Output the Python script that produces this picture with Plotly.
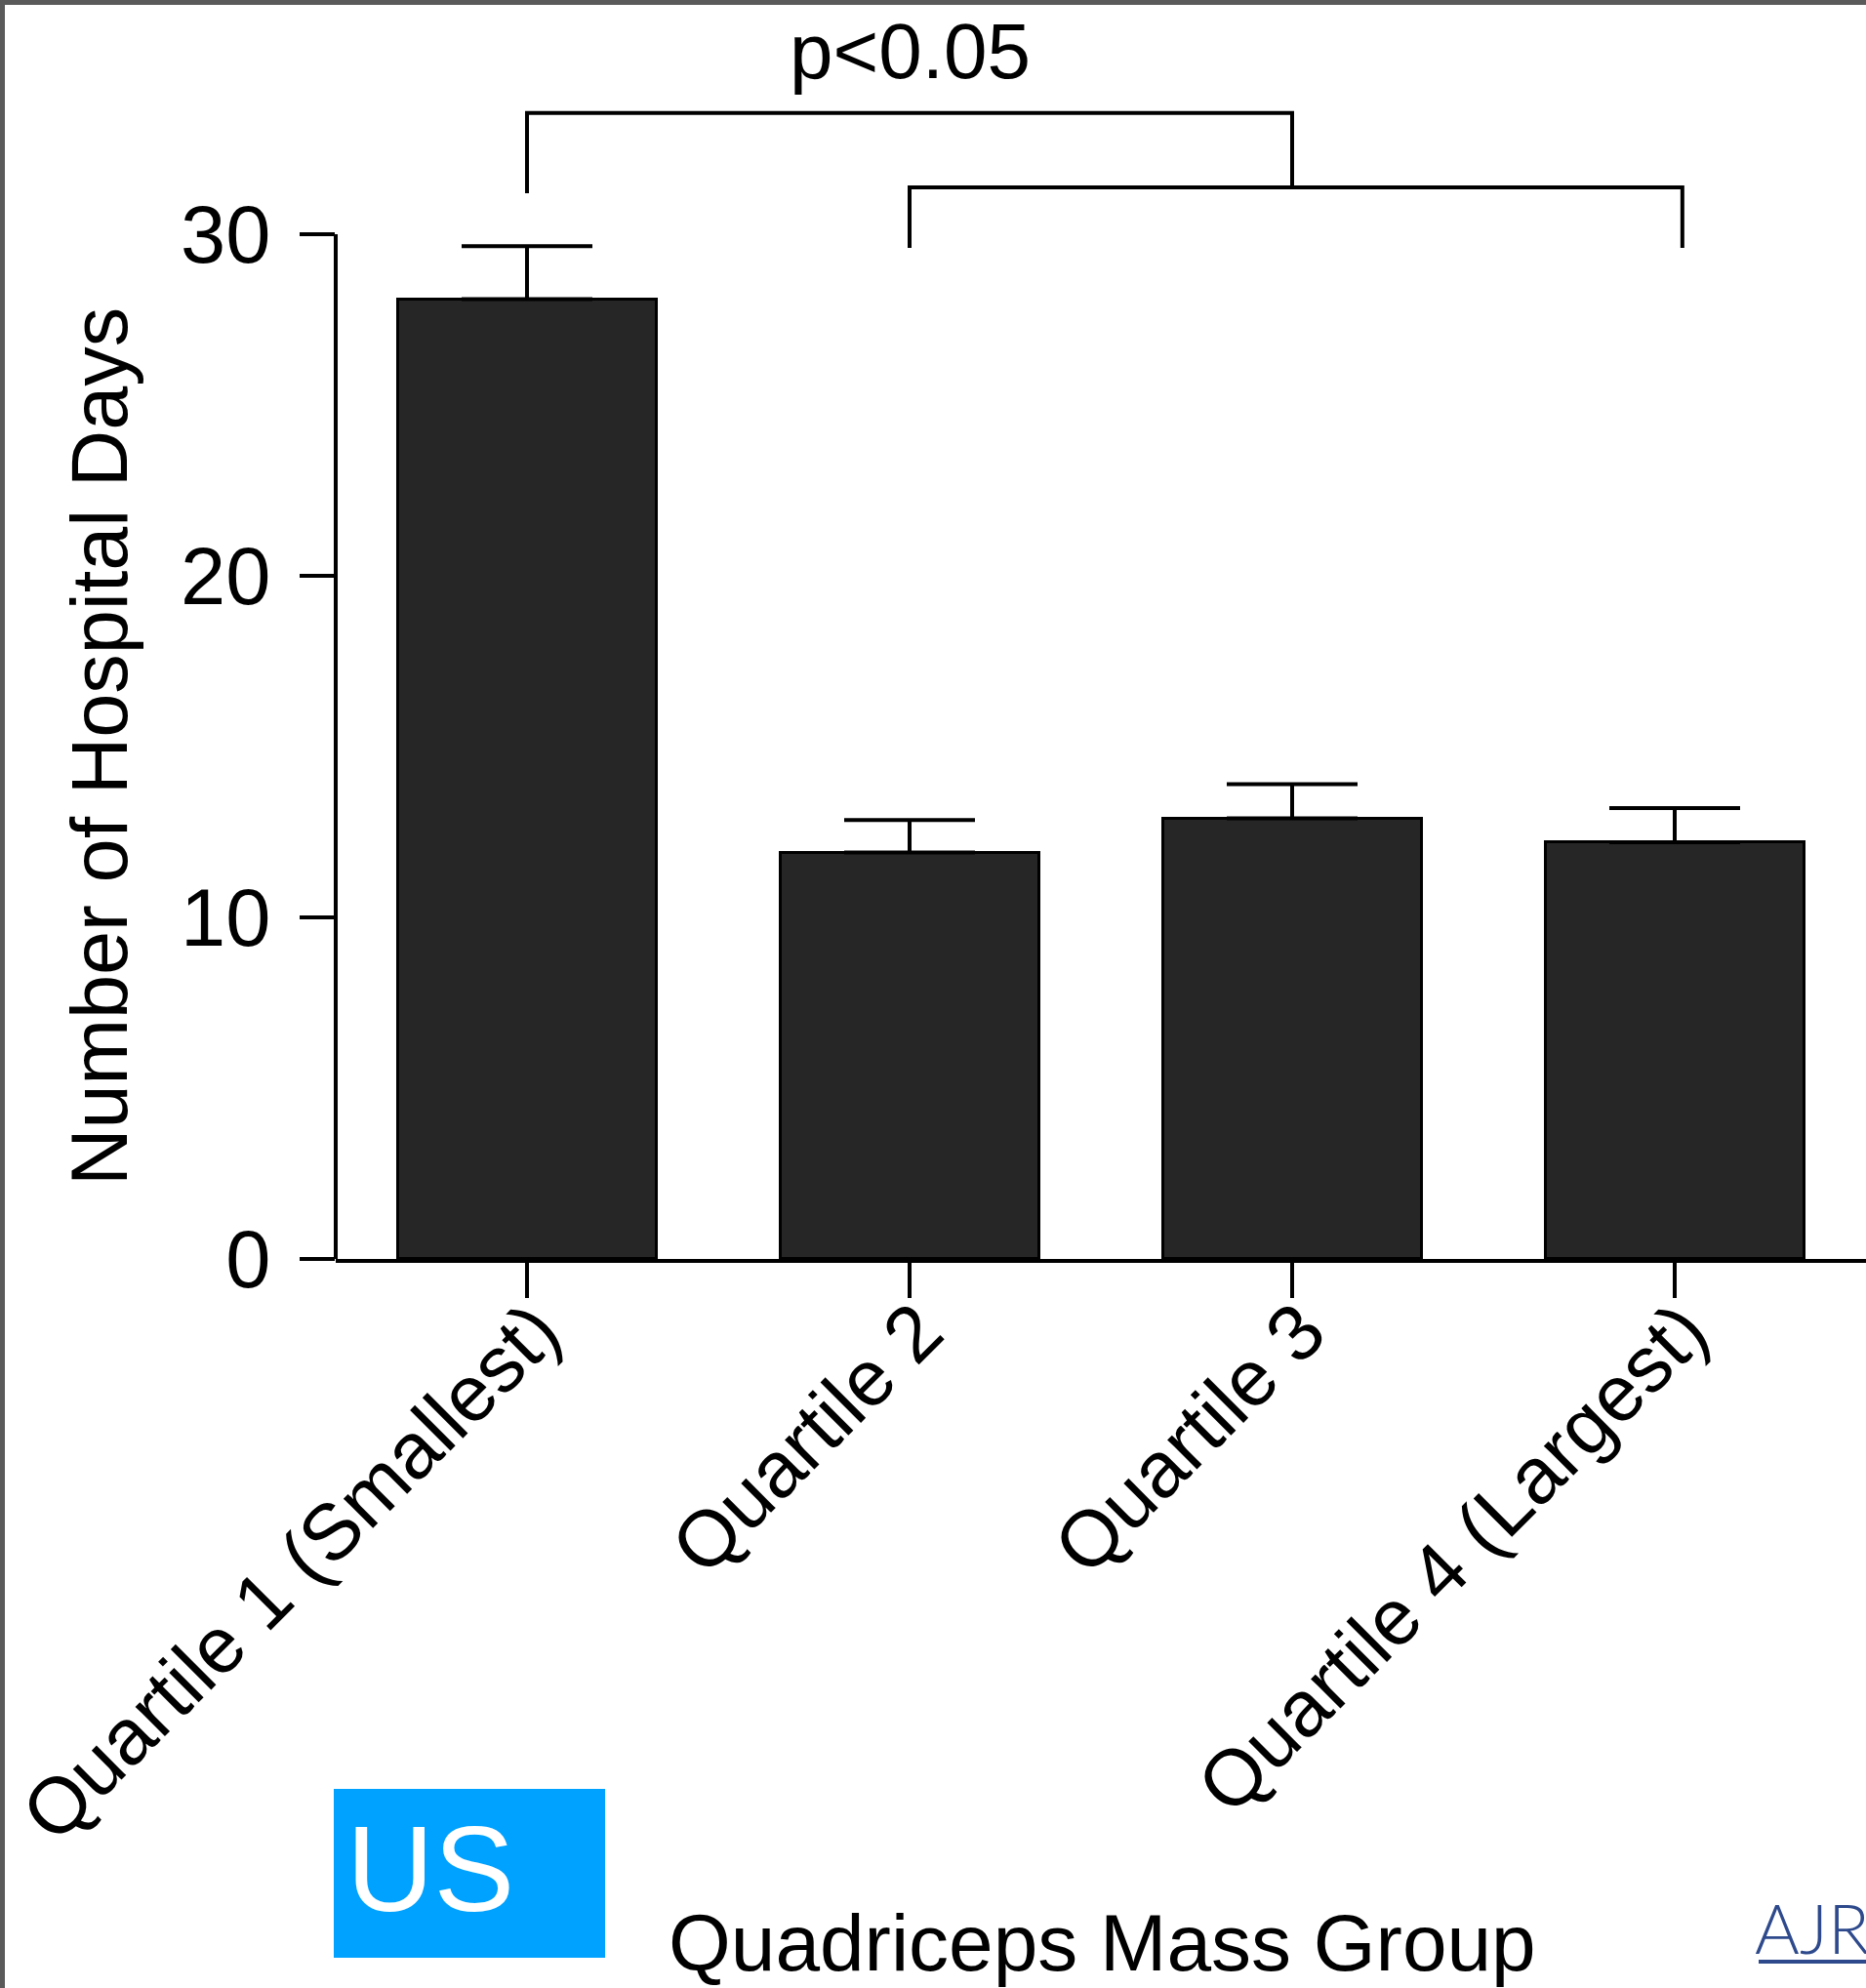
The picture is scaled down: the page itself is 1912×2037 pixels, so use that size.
import plotly.graph_objects as go

# Data: mean hospital days by quadriceps mass quartile
categories = ["Quartile 1 (Smallest)", "Quartile 2", "Quartile 3", "Quartile 4 (Largest)"]
hospital_days = [28.1, 11.9, 12.9, 12.2]
error_upper = [1.55, 0.95, 1.0, 1.0]
y_ticks = [0, 10, 20, 30]
p_label = "p<0.05"

# Page geometry (pixels)
W, H = 1912, 2037
ML, MR, MT, MB = 344, 0, 0, 747
PW, PH = W - ML - MR, H - MT - MB
PX_PER_UNIT = 35.0
FONT = "Liberation Sans, Arial, Helvetica, sans-serif"


def px(x):
    return (x - ML) / PW


def py(y):
    return (H - MB - y) / PH


fig = go.Figure()
fig.add_trace(go.Bar(
    x=categories,
    y=hospital_days,
    width=0.676,
    marker=dict(color="#262626", line=dict(color="#000000", width=3)),
    error_y=dict(type="data", symmetric=False, array=error_upper,
                 arrayminus=[0] * len(error_upper),
                 color="#000000", thickness=4, width=67),
    showlegend=False,
))

line_style = dict(color="#000000", width=4)

# y axis spine drawn only across the tick span
fig.add_shape(type="line", xref="paper", yref="y", x0=0, x1=0,
              y0=min(y_ticks), y1=max(y_ticks), line=line_style)

# significance brackets
b1_top, b1_left_drop, b2_top, b2_drop = 33.55, 31.2, 31.37, 29.6
b2_right = 3.02
fig.add_shape(type="path", xref="x", yref="y",
              path=f"M 0,{b1_left_drop} L 0,{b1_top} L 2,{b1_top} L 2,{b2_top}",
              line=line_style)
fig.add_shape(type="path", xref="x", yref="y",
              path=f"M 1,{b2_drop} L 1,{b2_top} L {b2_right},{b2_top} L {b2_right},{b2_drop}",
              line=line_style)
fig.add_annotation(x=1, y=(H - MB - 52) / PX_PER_UNIT, xref="x", yref="y",
                   text=p_label, showarrow=False, xanchor="center", yanchor="middle",
                   font=dict(family=FONT, size=80, color="#000000"))

# y axis title centred on the spine
fig.add_annotation(x=px(102), y=max(y_ticks) / 2, xref="paper", yref="y",
                   text="Number of Hospital Days", textangle=-90, showarrow=False,
                   xanchor="center", yanchor="middle",
                   font=dict(family=FONT, size=81, color="#000000"))

# x axis title
fig.add_annotation(x=px(1129), y=py(1990), xref="paper", yref="paper",
                   text="Quadriceps Mass Group", showarrow=False,
                   xanchor="center", yanchor="middle",
                   font=dict(family=FONT, size=82, color="#000000"))

# US badge
fig.add_shape(type="rect", xref="paper", yref="paper",
              x0=px(342), x1=px(620), y0=py(2006), y1=py(1833),
              fillcolor="rgb(0,162,255)", line=dict(width=0), layer="above")
fig.add_annotation(x=px(353), y=py(1915), xref="paper", yref="paper",
                   text="US", showarrow=False, xanchor="left", yanchor="middle",
                   font=dict(family=FONT, size=124, color="#ffffff"))

# journal mark (runs off the right edge of the page)
fig.add_annotation(x=px(1796), y=py(1975), xref="paper", yref="paper",
                   text="AJR", showarrow=False, xanchor="left", yanchor="middle",
                   font=dict(family="Lato, Open Sans, sans-serif", size=70,
                             color="#2E4A8C", weight=300))
fig.add_shape(type="line", xref="paper", yref="paper",
              x0=px(1802), x1=px(W), y0=py(2010), y1=py(2010),
              line=dict(color="#2E4A8C", width=4))

# page frame (top and left edges)
frame = "#5a5a5a"
fig.add_shape(type="rect", xref="paper", yref="paper",
              x0=px(0), x1=px(5), y0=py(H), y1=py(0),
              fillcolor=frame, line=dict(width=0), layer="above")
fig.add_shape(type="rect", xref="paper", yref="paper",
              x0=px(0), x1=px(W), y0=py(5), y1=py(0),
              fillcolor=frame, line=dict(width=0), layer="above")

fig.update_layout(
    width=W, height=H,
    margin=dict(l=ML, r=MR, t=MT, b=MB, pad=0, autoexpand=False),
    paper_bgcolor="#ffffff", plot_bgcolor="#ffffff",
    font=dict(family=FONT, color="#000000"),
    bargap=0,
    xaxis=dict(
        type="category", range=[-0.5, 3.5], automargin=False,
        showline=True, linecolor="#000000", linewidth=4,
        ticks="outside", ticklen=36, tickwidth=4, tickcolor="#000000",
        tickangle=-45, ticklabelstandoff=-46, ticklabelshift=10,
        tickfont=dict(family=FONT, size=81, color="#000000"),
        showgrid=False, zeroline=False,
    ),
    yaxis=dict(
        range=[0, PH / PX_PER_UNIT], automargin=False,
        tickmode="array", tickvals=y_ticks, ticktext=[str(t) for t in y_ticks],
        showline=False,
        ticks="outside", ticklen=36, tickwidth=4, tickcolor="#000000",
        ticklabelstandoff=13,
        tickfont=dict(family=FONT, size=83, color="#000000"),
        showgrid=False, zeroline=False,
    ),
)

fig.write_html("out.html")
